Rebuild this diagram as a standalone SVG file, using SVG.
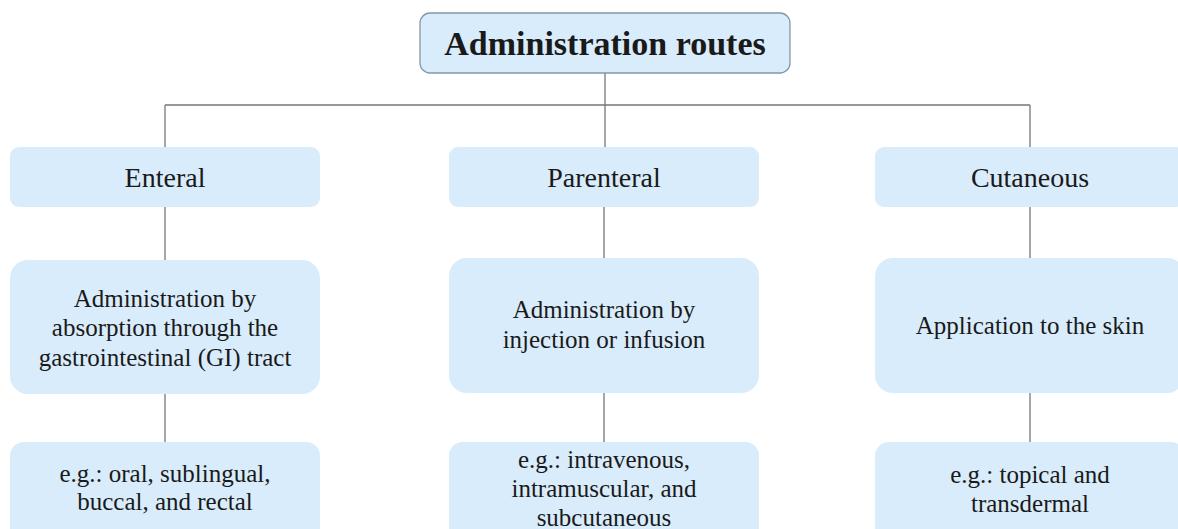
<svg xmlns="http://www.w3.org/2000/svg" width="1178" height="529" viewBox="0 0 1178 529">
<style>
.box{fill:#d9ecfb;}
.root{fill:#d9ecfb;stroke:#8497a6;stroke-width:1.3;}
text{font-family:'Liberation Serif','Times New Roman',serif;fill:#1a1a1a;text-anchor:middle;}
.title{font-size:34px;font-weight:bold;}
.h{font-size:28px;}
.b{font-size:25px;}
.c{stroke:#777;stroke-width:1.3;fill:none;}
</style>
<rect width="1178" height="529" fill="#ffffff"/>
<g id="connectors">
<path class="c" d="M605 73V147M165 105H1030M165 105V147M1030 105V147"/>
<path class="c" d="M165 207V260M604 207V258M1030 207V258"/>
<path class="c" d="M165 394V442M604 393V442M1030 393V442"/>
</g>
<g id="root">
<rect class="root" x="420" y="13" width="370" height="60" rx="10"/>
<text class="title" x="605" y="55">Administration routes</text>
</g>
<g id="enteral">
<rect class="box" x="10" y="147" width="310" height="60" rx="9"/>
<text class="h" x="165" y="187">Enteral</text>
</g>
<g id="parenteral">
<rect class="box" x="449" y="147" width="310" height="60" rx="9"/>
<text class="h" x="604" y="187">Parenteral</text>
</g>
<g id="cutaneous">
<rect class="box" x="875" y="147" width="310" height="60" rx="9"/>
<text class="h" x="1030" y="187">Cutaneous</text>
</g>
<g id="enteral-desc">
<rect class="box" x="10" y="260" width="310" height="134" rx="18"/>
<text class="b" x="165" y="307">Administration by</text>
<text class="b" x="165" y="336">absorption through the</text>
<text class="b" x="165" y="366">gastrointestinal (GI) tract</text>
</g>
<g id="parenteral-desc">
<rect class="box" x="449" y="258" width="310" height="135" rx="18"/>
<text class="b" x="604" y="318">Administration by</text>
<text class="b" x="604" y="348">injection or infusion</text>
</g>
<g id="cutaneous-desc">
<rect class="box" x="875" y="258" width="310" height="135" rx="18"/>
<text class="b" x="1030" y="334">Application to the skin</text>
</g>
<g id="enteral-eg">
<rect class="box" x="10" y="442" width="310" height="110" rx="14"/>
<text class="b" x="165" y="482">e.g.: oral, sublingual,</text>
<text class="b" x="165" y="510">buccal, and rectal</text>
</g>
<g id="parenteral-eg">
<rect class="box" x="449" y="442" width="310" height="110" rx="14"/>
<text class="b" x="604" y="468">e.g.: intravenous,</text>
<text class="b" x="604" y="497">intramuscular, and</text>
<text class="b" x="604" y="526">subcutaneous</text>
</g>
<g id="cutaneous-eg">
<rect class="box" x="875" y="442" width="310" height="110" rx="14"/>
<text class="b" x="1030" y="483">e.g.: topical and</text>
<text class="b" x="1030" y="512">transdermal</text>
</g>
</svg>
